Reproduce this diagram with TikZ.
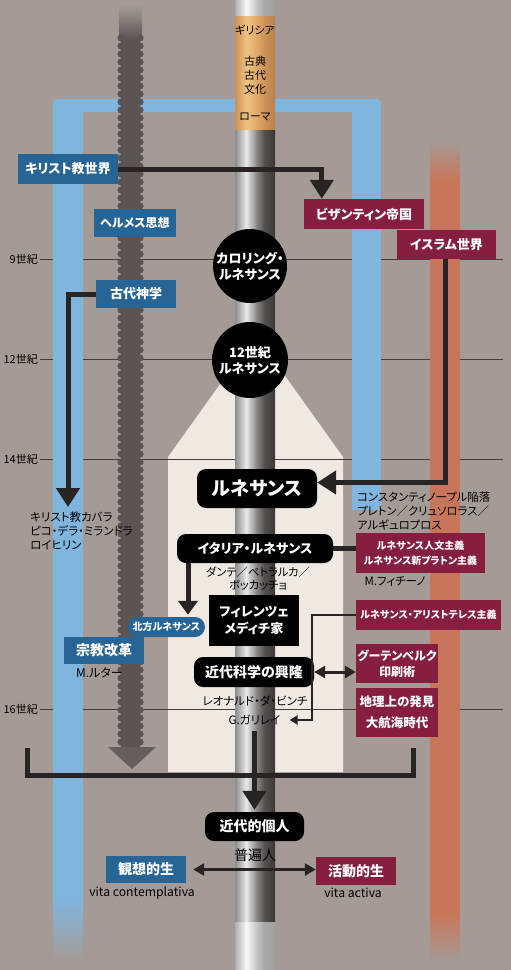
\documentclass[tikz,border=0pt]{standalone}
\usepackage{fontspec}
\setmainfont{Noto Sans CJK JP}[RawFeature=+palt]
\usetikzlibrary{arrows.meta}
\definecolor{bg}{RGB}{164,155,150}
\definecolor{boxblue}{RGB}{38,101,150}
\definecolor{crim}{RGB}{134,30,64}
\definecolor{ink}{RGB}{40,36,36}
\definecolor{lblue}{RGB}{128,181,222}
\definecolor{orng}{RGB}{200,118,90}
\definecolor{cream}{RGB}{240,233,226}
\definecolor{wavy}{RGB}{90,84,84}
\definecolor{wavyhead}{RGB}{100,94,94}
\definecolor{tl}{RGB}{70,62,62}
\definecolor{pa1}{RGB}{140,140,140}\definecolor{pa2}{RGB}{235,235,235}\definecolor{pa3}{RGB}{140,138,138}\definecolor{pa4}{RGB}{85,80,80}\definecolor{pa5}{RGB}{60,55,55}
\definecolor{pl1}{RGB}{175,175,175}\definecolor{pl2}{RGB}{250,250,250}\definecolor{pl3}{RGB}{200,200,200}\definecolor{pl4}{RGB}{170,168,168}\definecolor{pl5}{RGB}{160,158,158}
\definecolor{pg1}{RGB}{200,145,88}\definecolor{pg2}{RGB}{240,195,130}\definecolor{pg3}{RGB}{225,170,105}\definecolor{pg4}{RGB}{205,148,88}\definecolor{pg5}{RGB}{185,128,72}
\newcommand\fsz[2]{\fontsize{#1}{#2}\selectfont}
\newcommand\fbz[2]{\fontsize{#1}{#2}\selectfont\bfseries}
\newcommand\pipeseg[7]{%
  \shade[left color=#3,right color=#4] (235,#1) rectangle (246.4,#2);
  \shade[left color=#4,right color=#5] (246,#1) rectangle (256.4,#2);
  \shade[left color=#5,right color=#6] (256,#1) rectangle (264.4,#2);
  \shade[left color=#6,right color=#7] (264,#1) rectangle (275,#2);
}
\tikzset{
  wbox/.style={inner sep=0pt, align=center, text=white},
  bluebox/.style={wbox, fill=boxblue},
  crimbox/.style={wbox, fill=crim},
  blackbox/.style={wbox, fill=black, rounded corners=9pt},
  dtext/.style={inner sep=0pt, align=center, text=black},
  tlabel/.style={inner sep=0pt, text=black, font=\fsz{11}{12}},
  timeline/.style={draw=tl, line width=0.7pt},
  bigarrow/.style={draw=ink, line width=5pt, -{Triangle[width=23pt,length=19pt]}},
  medarrow/.style={draw=ink, line width=5pt, -{Triangle[width=19pt,length=14pt]}},
  thinarrow/.style={draw=ink, line width=2.5pt, -{Triangle[width=9pt,length=8pt]}},
  dblarrow/.style={draw=ink, line width=3pt, {Triangle[width=12pt,length=11pt]}-{Triangle[width=12pt,length=11pt]}},
  barline/.style={draw=ink, line width=5pt},
}
\begin{document}
\begin{tikzpicture}[x=1pt,y=-1pt]
\useasboundingbox (0,0) rectangle (511,970);
\fill[bg] (0,0) rectangle (511,970);
% cream panel
\fill[cream] (226.6,375) -- (168,457) -- (168,772) -- (343,772) -- (343,457) -- (284.4,375) -- cycle;
% time lines
\node[tlabel, anchor=east] (t9) at (38,259) {9世紀};
\node[tlabel, anchor=east] (t12) at (38,359) {12世紀};
\node[tlabel, anchor=east] (t14) at (38,459) {14世紀};
\node[tlabel, anchor=east] (t16) at (38,709) {16世紀};
\draw[timeline] ([xshift=2pt]t9.east) -- ++(463,0);
\draw[timeline] ([xshift=2pt]t12.east) -- ++(463,0);
\draw[timeline] ([xshift=2pt]t14.east) -- ++(463,0);
\draw[timeline] ([xshift=2pt]t16.east) -- ++(463,0);
% blue frame
\fill[lblue, rounded corners=4pt] (53,99) rectangle (381,112);
\fill[lblue] (53,106) rectangle (83,900);
\shade[top color=lblue, bottom color=bg] (53,899.5) rectangle (83,960);
\fill[lblue] (352,106) rectangle (381,510);
% orange column
\shade[top color=bg, bottom color=orng] (430,140) rectangle (460,180);
\fill[orng] (430,179.5) rectangle (460,915);
\shade[top color=orng, bottom color=bg] (430,914.5) rectangle (460,962);
% wavy column
\shade[top color=bg, bottom color=wavy] (119,5) rectangle (142,40);
\fill[wavy] (121,39.5) rectangle (140,747);
\foreach \yy in {38,46,...,742} {
  \fill[wavy] (121,\yy) circle (3.6pt);
  \fill[wavy] (140,\yy) circle (3.6pt);
}
\fill[wavyhead] (108,747) -- (156,747) -- (132,769) -- cycle;
% pipe
\pipeseg{0}{16.4}{pl1}{pl2}{pl3}{pl4}{pl5}
\pipeseg{16}{130.4}{pg1}{pg2}{pg3}{pg4}{pg5}
\pipeseg{130}{922.4}{pa1}{pa2}{pa3}{pa4}{pa5}
\pipeseg{922}{970}{pl1}{pl2}{pl3}{pl4}{pl5}
% gold texts
\node[dtext, font=\fsz{11}{14}] (greece) at (255,30) {ギリシア};
\node[dtext, font=\fsz{11}{14}] (koten) at (255,75) {古典\\古代\\文化};
\node[dtext, font=\fsz{11}{14}] (rome) at (255,117) {ローマ};
% left nodes
\node[bluebox, font=\fbz{13}{16}, minimum width=100pt, minimum height=30pt] (krist) at (68,169) {キリスト教世界};
\node[bluebox, font=\fbz{12}{15}, minimum width=82pt, minimum height=28pt] (herm) at (135,223) {ヘルメス思想};
\node[bluebox, font=\fbz{13}{16}, minimum width=80pt, minimum height=28pt] (kodai) at (136,294) {古代神学};
\node[dtext, font=\fsz{11.5}{14}, align=left, anchor=west] (kabbala) at (30,531) {キリスト教カバラ\\ピコ・デラ・ミランドラ\\ロイヒリン};
% right nodes
\node[crimbox, font=\fbz{13}{16}, minimum width=120pt, minimum height=30pt] (byz) at (364,214) {ビザンティン帝国};
\node[crimbox, font=\fbz{13}{16}, minimum width=99pt, minimum height=29pt] (islam) at (446.5,244.5) {イスラム世界};
% circles
\node[circle, fill=black, text=white, inner sep=0pt, minimum size=74pt, align=center, font=\fbz{13}{16}] (caro) at (250,266) {カロリング・\\ルネサンス};
\node[circle, fill=black, text=white, inner sep=0pt, minimum size=76pt, align=center, font=\fbz{13}{16}] (twelve) at (250,360) {12世紀\\ルネサンス};
% center column
\node[blackbox, font=\fbz{19}{22}, minimum width=120pt, minimum height=39pt] (ren) at (257,488.5) {ルネサンス};
\node[dtext, font=\fsz{11.4}{14}, align=left, anchor=west] (const) at (357,511) {コンスタンティノープル陥落\\プレトン／クリュソロラス／\\アルギュロプロス};
\node[blackbox, font=\fbz{13}{16}, minimum width=156pt, minimum height=29pt] (italia) at (255,548.5) {イタリア・ルネサンス};
\node[crimbox, font=\fbz{10}{15}, minimum width=129pt, minimum height=40pt] (jinbun) at (420.5,553) {ルネサンス人文主義\\ルネサンス新プラトン主義};
\node[dtext, font=\fsz{11.5}{14}] (ficino) at (395,582) {M.フィチーノ};
\node[dtext, font=\fsz{11.3}{13}] (dante) at (258,578.5) {ダンテ／ペトラルカ／\\ボッカッチョ};
\node[wbox, fill=black, font=\fbz{13}{17}, minimum width=90pt, minimum height=51pt] (firenze) at (254,620.5) {フィレンツェ\\メディチ家};
\node[wbox, fill=boxblue, rounded corners=10pt, font=\fbz{10}{12}, minimum width=77pt, minimum height=20pt] (hoppo) at (166.5,627) {北方ルネサンス};
\node[bluebox, font=\fbz{14}{16}, minimum width=80pt, minimum height=27pt] (shukyo) at (104,650.5) {宗教改革};
\node[dtext, font=\fsz{12}{14}] (luther) at (99.5,673) {M.ルター};
\node[crimbox, font=\fbz{10}{12}, minimum width=145pt, minimum height=30pt] (aristo) at (428.5,615) {ルネサンス・アリストテレス主義};
\node[blackbox, font=\fbz{14}{16}, minimum width=120pt, minimum height=30pt] (kagaku) at (254,672) {近代科学の興隆};
\node[crimbox, font=\fbz{12}{16}, minimum width=82pt, minimum height=39pt] (guten) at (397,663.5) {グーテンベルク\\印刷術};
\node[crimbox, font=\fbz{12.5}{21}, minimum width=82pt, minimum height=49pt] (chiri) at (397,712.5) {地理上の発見\\大航海時代};
\node[dtext, font=\fsz{11.5}{13}] (leonardo) at (255,701) {レオナルド・ダ・ビンチ};
\node[dtext, font=\fsz{11.5}{14}] (galilei) at (254.5,720) {G.ガリレイ};
\node[blackbox, font=\fbz{14}{16}, minimum width=99pt, minimum height=29pt] (kindai) at (254.5,826.5) {近代的個人};
\node[dtext, font=\fsz{14}{16}] (fuhen) at (255,855) {普遍人};
\node[bluebox, font=\fbz{14}{16}, minimum width=80pt, minimum height=27pt] (kanso) at (146,869.5) {観想的生};
\node[dtext, font=\fsz{12.2}{14}] (vitac) at (142,893) {vita contemplativa};
\node[crimbox, font=\fbz{14}{16}, minimum width=80pt, minimum height=28pt] (katsudo) at (356,871) {活動的生};
\node[dtext, font=\fsz{12.2}{14}] (vitaa) at (353,893) {vita activa};
% connectors
\coordinate (kabtop) at (68,507);
\coordinate (gcorner) at (312,720);
\coordinate (bl) at (27,775);
\coordinate (br) at (413,775);
\draw[bigarrow] (krist.east) -| ([xshift=18pt]byz.north west);
\draw[bigarrow] (kodai.west) -| (kabtop);
\draw[bigarrow] ([xshift=-1.5pt]islam.south) |- ([yshift=6pt]ren.east);
\draw[barline] (italia.east) -- (italia.east -| jinbun.west);
\draw[medarrow] ([xshift=-67pt]italia.south) -- ([xshift=21.5pt,yshift=2pt]hoppo.north);
\draw[thinarrow] (aristo.west) -| (gcorner) -- ([xshift=9pt]galilei.east);
\draw[dblarrow] (kagaku.east) -- (kagaku.east -| guten.west);
\draw[barline] ([yshift=27pt]bl) -- (bl) -- (br) -- ([yshift=27pt]br);
\draw[bigarrow] ([yshift=-6pt]galilei.south) -- ([yshift=2pt]kindai.north);
\draw[dblarrow] ([xshift=7pt]kanso.east) -- (kanso.east -| katsudo.west);
\end{tikzpicture}
\end{document}
